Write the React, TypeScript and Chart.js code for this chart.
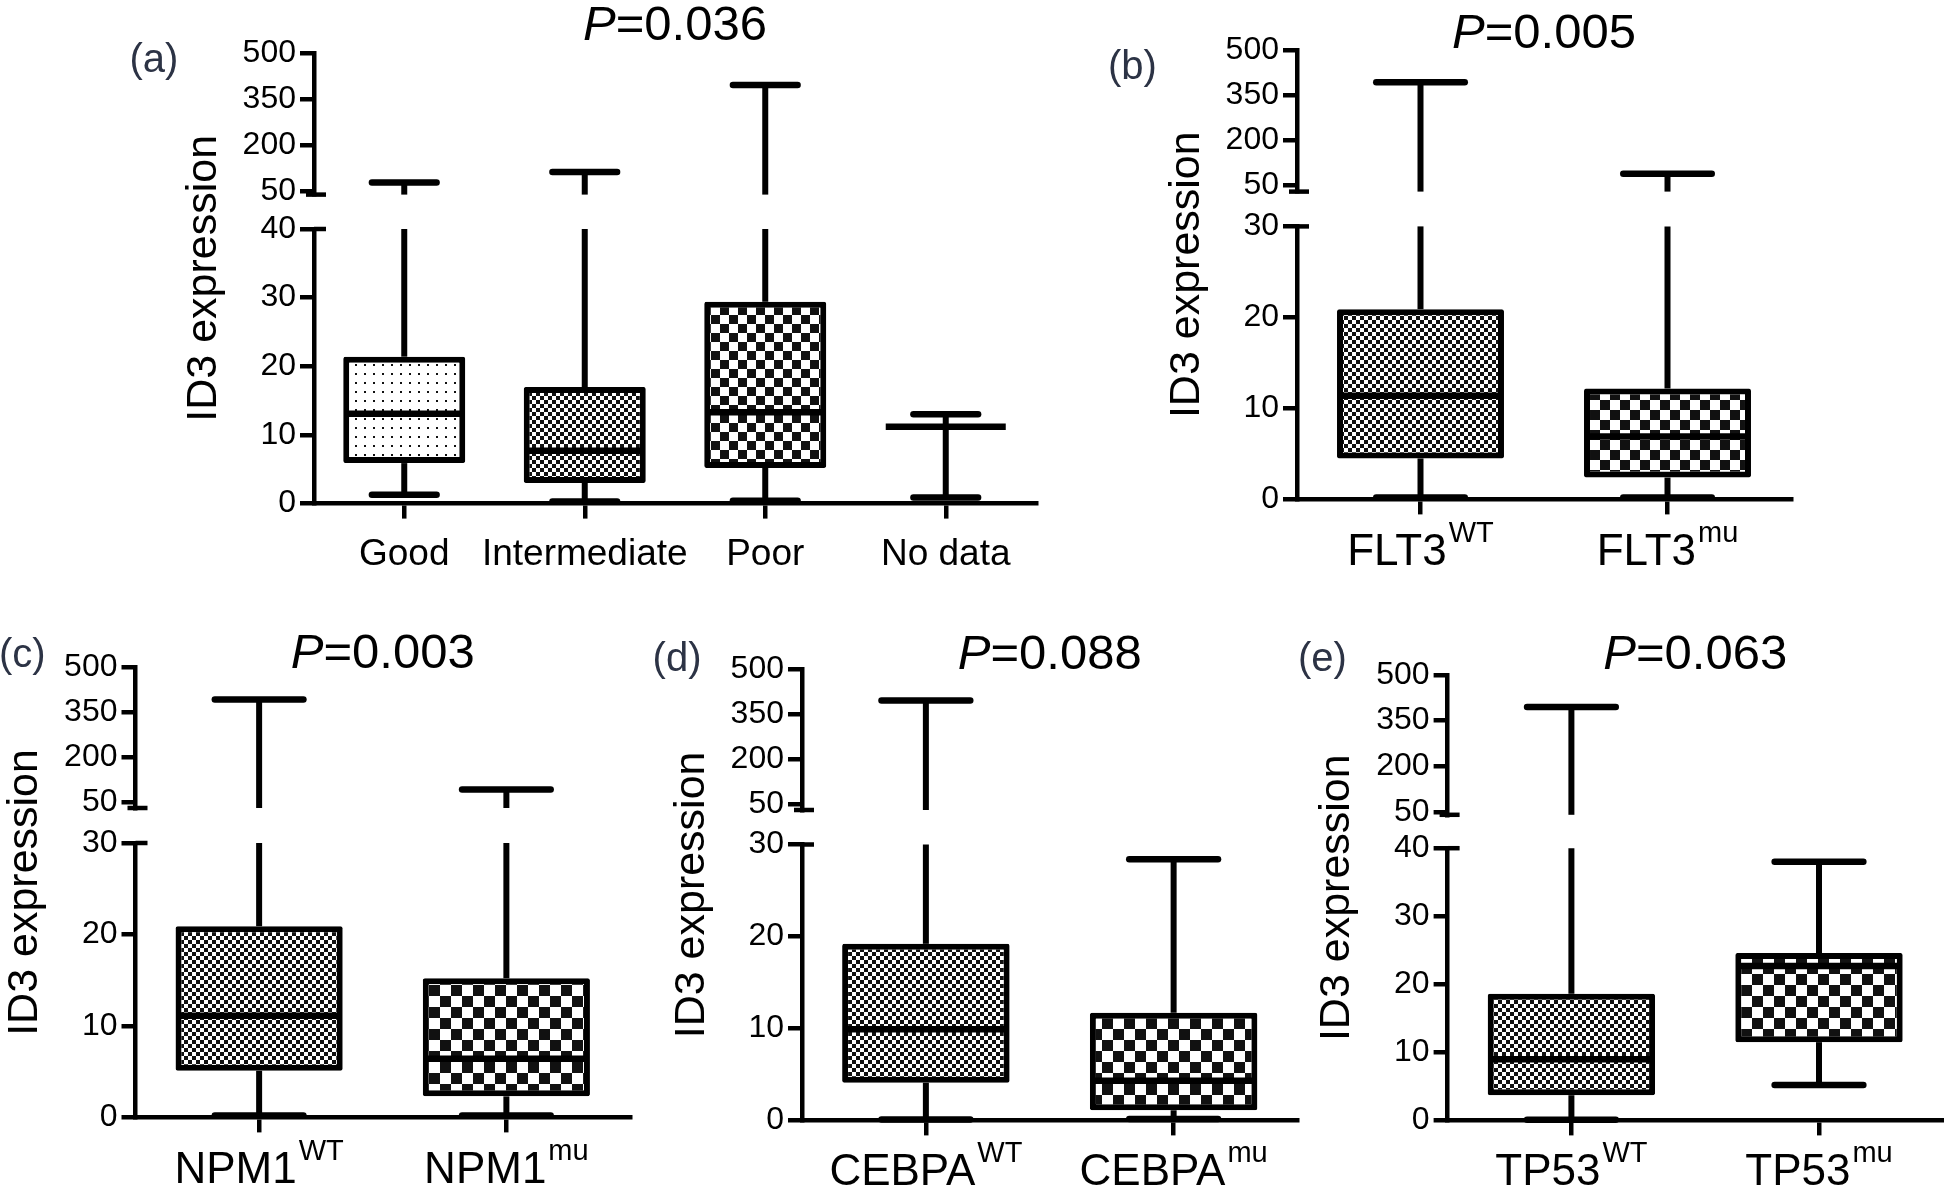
import React, { useEffect, useRef } from 'react';
import { Chart, registerables } from 'chart.js';

Chart.register(...registerables);

// ---------------- data ----------------
const riskLabels = ['Good', 'Intermediate', 'Poor', 'No data'];
const riskSup = ['', '', '', ''];
const riskMin = [1.3, 0.3, 0.4, 0.9];
const riskQ1 = [5.9, 3.0, 5.2, 11.2];
const riskMedian = [13.1, 7.7, 13.3, 11.2];
const riskQ3 = [21.4, 17.0, 29.4, 11.2];
const riskMax = [79, 113, 396, 13.0];

const flt3Labels = ['FLT3', 'FLT3'];
const npm1Labels = ['NPM1', 'NPM1'];
const cebpaLabels = ['CEBPA', 'CEBPA'];
const tp53Labels = ['TP53', 'TP53'];
const mutSup = ['WT', 'mu'];

const flt3Min = [0.2, 0.2];
const flt3Q1 = [4.5, 2.4];
const flt3Median = [11.4, 6.9];
const flt3Q3 = [20.9, 12.2];
const flt3Max = [393, 89];

const npm1Min = [0.2, 0.2];
const npm1Q1 = [5.1, 2.3];
const npm1Median = [11.1, 6.4];
const npm1Q3 = [20.9, 15.2];
const npm1Max = [393, 92];

const cebpaMin = [0.1, 0.15];
const cebpaQ1 = [4.1, 1.1];
const cebpaMedian = [9.9, 4.3];
const cebpaQ3 = [19.2, 11.7];
const cebpaMax = [396, 28.4];

const tp53Min = [0.1, 5.2];
const tp53Q1 = [3.7, 11.5];
const tp53Median = [9.0, 22.7];
const tp53Q3 = [18.6, 24.6];
const tp53Max = [395, 38.0];

const upperTicks = [50, 200, 350, 500];
const lowerTicks40 = [0, 10, 20, 30, 40];
const lowerTicks30 = [0, 10, 20, 30];
const pValues = ['0.036', '0.005', '0.003', '0.088', '0.063'];
const panelLetters = ['(a)', '(b)', '(c)', '(d)', '(e)'];
const yTitle = 'ID3 expression';

// ---------------- styling / layout ----------------
const FF = '"Liberation Sans", Arial, Helvetica, sans-serif';
const Y_AXIS_W = 110;
const X_AXIS_H = 60;

type Geo = { L: number; R: number; T: number; tsb: number; bst: number; B: number };
type PanelDef = {
  labels: string[]; sups: string[];
  min: number[]; q1: number[]; med: number[]; q3: number[]; max: number[];
  fills: string[]; lowMax: number; lowTicks: number[];
  p: string; letter: string;
  box: { x: number; y: number; w: number; h: number };
  geo: Geo;
  letterPos: [number, number];
  titleBase: number;
  labelFont: number; labelOffset: number;
  coarse: number;
};

const panels: PanelDef[] = [
  {
    labels: riskLabels, sups: riskSup, min: riskMin, q1: riskQ1, med: riskMedian, q3: riskQ3, max: riskMax,
    fills: ['dots', 'fine', 'coarse', 'fine'], lowMax: 40, lowTicks: lowerTicks40,
    p: pValues[0], letter: panelLetters[0],
    box: { x: 0, y: 0, w: 1100, h: 600 },
    geo: { L: 314, R: 1036, T: 52.9, tsb: 194.6, bst: 229, B: 503.6 },
    letterPos: [129.5, 72], titleBase: 40, labelFont: 37, labelOffset: 61.5, coarse: 9,
  },
  {
    labels: flt3Labels, sups: mutSup, min: flt3Min, q1: flt3Q1, med: flt3Median, q3: flt3Q3, max: flt3Max,
    fills: ['fine', 'coarse'], lowMax: 30, lowTicks: lowerTicks30,
    p: pValues[1], letter: panelLetters[1],
    box: { x: 1100, y: 0, w: 844, h: 600 },
    geo: { L: 1297, R: 1791, T: 50, tsb: 191.6, bst: 226.4, B: 499.4 },
    letterPos: [1108, 79], titleBase: 48, labelFont: 44, labelOffset: 65.5, coarse: 10,
  },
  {
    labels: npm1Labels, sups: mutSup, min: npm1Min, q1: npm1Q1, med: npm1Median, q3: npm1Q3, max: npm1Max,
    fills: ['fine', 'coarse'], lowMax: 30, lowTicks: lowerTicks30,
    p: pValues[2], letter: panelLetters[2],
    box: { x: 0, y: 600, w: 640, h: 588 },
    geo: { L: 135.5, R: 630, T: 667.5, tsb: 808, bst: 843, B: 1117.4 },
    letterPos: [-1, 667], titleBase: 667.5, labelFont: 44, labelOffset: 65.5, coarse: 11,
  },
  {
    labels: cebpaLabels, sups: mutSup, min: cebpaMin, q1: cebpaQ1, med: cebpaMedian, q3: cebpaQ3, max: cebpaMax,
    fills: ['fine', 'coarse'], lowMax: 30, lowTicks: lowerTicks30,
    p: pValues[3], letter: panelLetters[3],
    box: { x: 640, y: 600, w: 670, h: 588 },
    geo: { L: 802, R: 1297.5, T: 669.4, tsb: 810, bst: 844.5, B: 1120.4 },
    letterPos: [652.6, 671], titleBase: 669.4, labelFont: 44, labelOffset: 64.6, coarse: 11,
  },
  {
    labels: tp53Labels, sups: mutSup, min: tp53Min, q1: tp53Q1, med: tp53Median, q3: tp53Q3, max: tp53Max,
    fills: ['fine', 'coarse'], lowMax: 40, lowTicks: lowerTicks40,
    p: pValues[4], letter: panelLetters[4],
    box: { x: 1290, y: 600, w: 654, h: 588 },
    geo: { L: 1447.6, R: 1942.8, T: 675, tsb: 814.8, bst: 848.2, B: 1120.4 },
    letterPos: [1298, 671], titleBase: 669, labelFont: 44, labelOffset: 64.6, coarse: 11,
  },
];

function makePattern(ctx: CanvasRenderingContext2D, kind: string, coarse: number): CanvasPattern | string {
  const c = document.createElement('canvas');
  const g = c.getContext('2d')!;
  if (kind === 'dots') {
    c.width = 9; c.height = 9;
    g.fillStyle = '#fff'; g.fillRect(0, 0, 9, 9);
    g.fillStyle = '#111'; g.fillRect(4, 4, 2, 2);
  } else {
    const s = kind === 'fine' ? 4 : coarse;
    c.width = 2 * s; c.height = 2 * s;
    g.fillStyle = '#fff'; g.fillRect(0, 0, 2 * s, 2 * s);
    g.fillStyle = '#111';
    g.fillRect(0, 0, s, s);
    g.fillRect(s, s, s, s);
  }
  return ctx.createPattern(c, 'repeat') || '#888';
}

function makePlugin(def: PanelDef) {
  const line = (ctx: CanvasRenderingContext2D, x1: number, y1: number, x2: number, y2: number, w: number, cap: CanvasLineCap = 'butt') => {
    ctx.beginPath();
    ctx.lineWidth = w;
    ctx.lineCap = cap;
    ctx.moveTo(x1, y1);
    ctx.lineTo(x2, y2);
    ctx.stroke();
  };
  return {
    id: 'boxDecor',
    afterDatasetsDraw(chart: any) {
      const ctx: CanvasRenderingContext2D = chart.ctx;
      const xS = chart.scales.x, yB = chart.scales.yBot, yT = chart.scales.yTop;
      const meta = chart.getDatasetMeta(0);
      ctx.save();
      ctx.strokeStyle = '#000';
      def.min.forEach((_, i) => {
        const x = xS.getPixelForValue(i);
        const bw = (meta.data[i] as any).width;
        const capHalf = bw * 0.265;
        const q3y = yB.getPixelForValue(def.q3[i]);
        const q1y = yB.getPixelForValue(def.q1[i]);
        // upper whisker
        if (def.max[i] <= yB.max) {
          const my = yB.getPixelForValue(def.max[i]);
          line(ctx, x, q3y, x, my, 6);
          line(ctx, x - capHalf, my, x + capHalf, my, 6.5, 'round');
        } else {
          line(ctx, x, q3y, x, yB.top, 6);
          const my = yT.getPixelForValue(def.max[i]);
          line(ctx, x, yT.bottom, x, my, 6);
          line(ctx, x - capHalf, my, x + capHalf, my, 6.5, 'round');
        }
        // lower whisker
        const mny = yB.getPixelForValue(def.min[i]);
        line(ctx, x, q1y, x, mny, 6);
        line(ctx, x - capHalf, mny, x + capHalf, mny, 6.5, 'round');
        // median
        const medY = yB.getPixelForValue(def.med[i]);
        line(ctx, x - bw / 2 + 1, medY, x + bw / 2 - 1, medY, 6.5);
      });
      // axis break marks
      const ax = yB.right;
      ctx.strokeStyle = '#000';
      line(ctx, ax - 8, yT.bottom, ax + 12, yT.bottom, 4.5);
      line(ctx, ax, yB.top, ax + 12, yB.top, 4.5);
      ctx.restore();
    },
    afterDraw(chart: any) {
      const ctx: CanvasRenderingContext2D = chart.ctx;
      const ca = chart.chartArea;
      const xS = chart.scales.x;
      const ox = def.box.x, oy = def.box.y;
      ctx.save();
      ctx.fillStyle = '#000';
      ctx.textBaseline = 'alphabetic';
      ctx.textAlign = 'left';
      // title  P=...
      const tf = 49;
      ctx.font = `italic ${tf}px ${FF}`;
      const wP = ctx.measureText('P').width;
      ctx.font = `${tf}px ${FF}`;
      const rest = '=' + def.p;
      const wR = ctx.measureText(rest).width;
      const cx = (ca.left + ca.right) / 2;
      const sx = cx - (wP + wR) / 2;
      ctx.font = `italic ${tf}px ${FF}`;
      ctx.fillText('P', sx, def.titleBase - oy);
      ctx.font = `${tf}px ${FF}`;
      ctx.fillText(rest, sx + wP, def.titleBase - oy);
      // panel letter
      ctx.fillStyle = '#2c3345';
      ctx.font = `40px ${FF}`;
      ctx.fillText(def.letter, def.letterPos[0] - ox, def.letterPos[1] - oy);
      // y title
      ctx.fillStyle = '#000';
      const yf = 43;
      ctx.font = `${yf}px ${FF}`;
      ctx.save();
      ctx.translate(ca.left - 109 + 0.253 * yf, (ca.top + ca.bottom) / 2);
      ctx.rotate(-Math.PI / 2);
      ctx.textAlign = 'center';
      ctx.fillText(yTitle, 0, 0);
      ctx.restore();
      // x labels with superscripts
      const supF = 29;
      def.labels.forEach((lab, i) => {
        const x = xS.getPixelForValue(i);
        const base = ca.bottom + def.labelOffset;
        ctx.font = `${def.labelFont}px ${FF}`;
        const w1 = ctx.measureText(lab).width;
        const sup = def.sups[i] || '';
        ctx.font = `${supF}px ${FF}`;
        const w2 = sup ? ctx.measureText(sup).width + 2 : 0;
        const st = x - (w1 + w2) / 2;
        ctx.font = `${def.labelFont}px ${FF}`;
        ctx.fillText(lab, st, base);
        if (sup) {
          ctx.font = `${supF}px ${FF}`;
          ctx.fillText(sup, st + w1 + 2, base - 23);
        }
      });
      ctx.restore();
    },
  };
}

function Panel({ def }: { def: PanelDef }) {
  const ref = useRef<HTMLCanvasElement | null>(null);
  useEffect(() => {
    const canvas = ref.current!;
    const ctx = canvas.getContext('2d')!;
    const g = def.geo;
    const fills = def.fills.map((k) => makePattern(ctx, k, def.coarse));
    const tickFont = { family: FF, size: 32 };
    const fitY = (s: any) => { s.width = Y_AXIS_W; };
    const chart = new Chart(canvas, {
      type: 'bar',
      data: {
        labels: def.labels.map((l, i) => l + (def.sups[i] || '')),
        datasets: [
          {
            data: def.q1.map((v, i) => [v, def.q3[i]]) as any,
            backgroundColor: fills as any,
            borderColor: '#000',
            borderWidth: 6,
            borderSkipped: false,
            borderRadius: 2,
            barPercentage: 0.676,
            categoryPercentage: 1,
            xAxisID: 'x',
            yAxisID: 'yBot',
          },
        ],
      },
      options: {
        responsive: false,
        animation: false,
        devicePixelRatio: 1,
        layout: {
          padding: {
            left: g.L - def.box.x - Y_AXIS_W,
            right: def.box.x + def.box.w - g.R,
            top: g.T - def.box.y,
            bottom: def.box.y + def.box.h - g.B - X_AXIS_H,
          },
        },
        plugins: { legend: { display: false }, tooltip: { enabled: false }, title: { display: false } },
        scales: {
          x: {
            type: 'category',
            offset: true,
            grid: { display: true, drawOnChartArea: false, drawTicks: true, tickLength: 15, lineWidth: 4.5, color: '#000', offset: false },
            border: { display: true, width: 4.5, color: '#000' },
            ticks: { display: false },
            afterFit: (s: any) => { s.height = X_AXIS_H; s.paddingLeft = 0; s.paddingRight = 0; },
          },
          yTop: {
            type: 'linear', position: 'left', stack: 'y', stackWeight: g.tsb - g.T, weight: 3,
            min: def.lowMax, max: 500,
            afterBuildTicks: (s: any) => { s.ticks = upperTicks.map((v) => ({ value: v })); },
            grid: { display: true, drawOnChartArea: false, drawTicks: true, tickLength: 14, lineWidth: 4.5, color: '#000' },
            border: { display: true, width: 4.5, color: '#000' },
            ticks: { font: tickFont, color: '#000', padding: 4, autoSkip: false },
            afterFit: fitY,
          },
          yGap: {
            type: 'linear', position: 'left', stack: 'y', stackWeight: g.bst - g.tsb, weight: 2,
            min: 0, max: 1,
            grid: { display: false },
            border: { display: false },
            ticks: { display: false },
            afterFit: fitY,
          },
          yBot: {
            type: 'linear', position: 'left', stack: 'y', stackWeight: g.B - g.bst, weight: 1,
            min: 0, max: def.lowMax,
            afterBuildTicks: (s: any) => { s.ticks = def.lowTicks.map((v) => ({ value: v })); },
            grid: { display: true, drawOnChartArea: false, drawTicks: true, tickLength: 14, lineWidth: 4.5, color: '#000' },
            border: { display: true, width: 4.5, color: '#000' },
            ticks: { font: tickFont, color: '#000', padding: 4, autoSkip: false },
            afterFit: fitY,
          },
        },
      } as any,
      plugins: [makePlugin(def) as any],
    });
    return () => chart.destroy();
  }, [def]);
  return (
    <canvas
      ref={ref}
      width={def.box.w}
      height={def.box.h}
      style={{ position: 'absolute', left: def.box.x, top: def.box.y, width: def.box.w, height: def.box.h }}
    />
  );
}

export default function App() {
  return (
    <div style={{ position: 'absolute', left: 0, top: 0, width: 1944, height: 1188, background: '#fff', overflow: 'hidden' }}>
      {panels.map((p, i) => (
        <Panel key={i} def={p} />
      ))}
    </div>
  );
}
